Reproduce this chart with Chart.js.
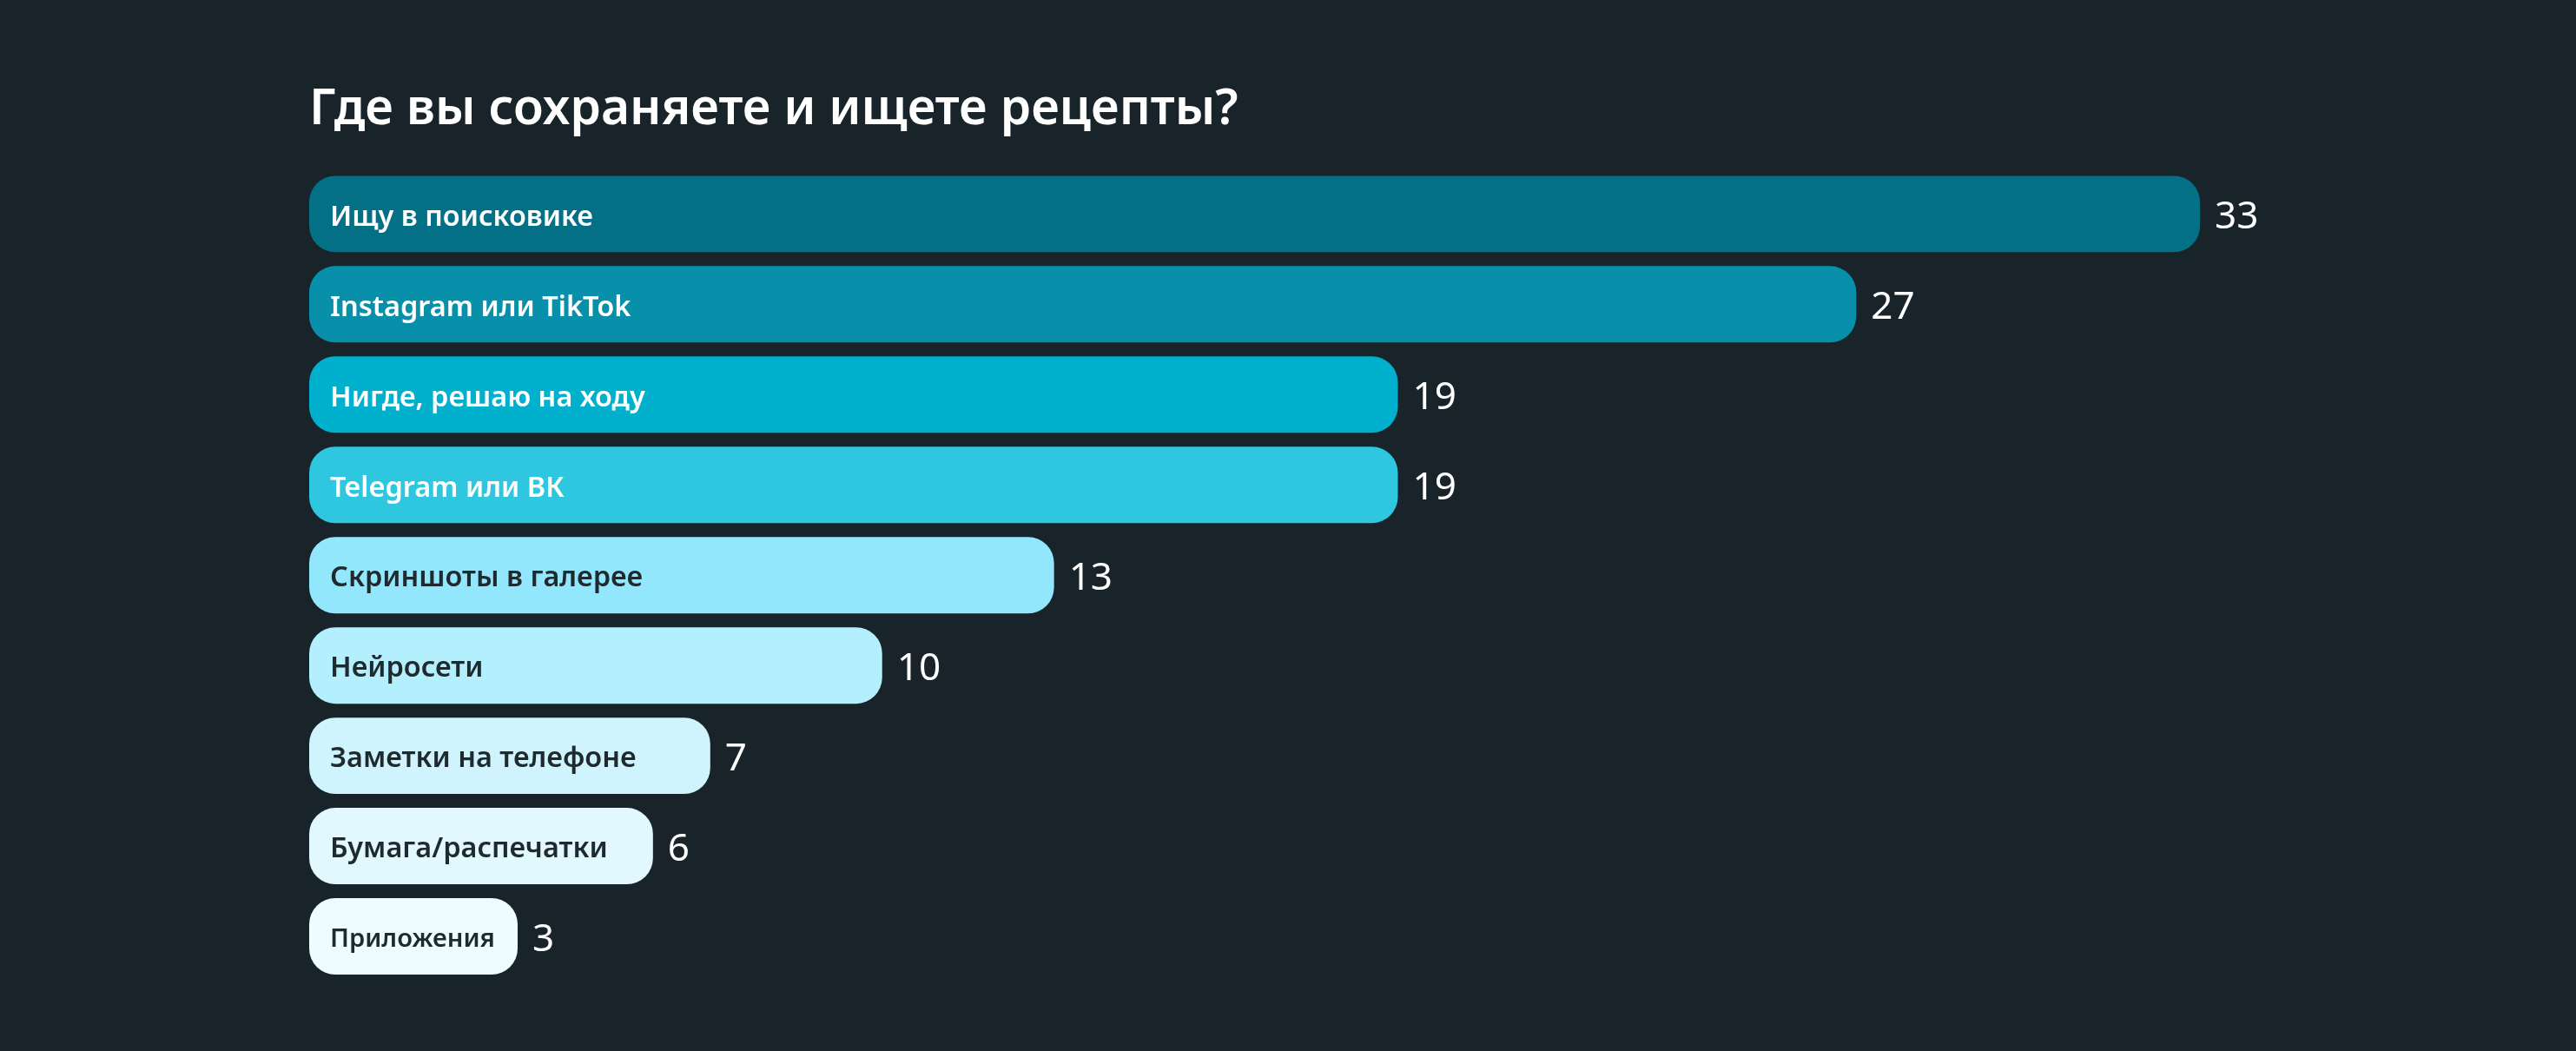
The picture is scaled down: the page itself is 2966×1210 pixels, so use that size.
<!DOCTYPE html>
<html lang="ru">
<head>
<meta charset="utf-8">
<title>Где вы сохраняете и ищете рецепты?</title>
<script src="https://cdn.jsdelivr.net/npm/chart.js@4.4.1/dist/chart.umd.min.js"></script>
<style>
  html, body { margin: 0; padding: 0; background: #182429; }
  #wrap { width: 2966px; height: 1210px; position: relative; }
</style>
</head>
<body>
<div id="wrap"><canvas id="chart"></canvas></div>
<script>
// data
const categories = [
  'Ищу в поисковике',
  'Instagram или TikTok',
  'Нигде, решаю на ходу',
  'Telegram или ВК',
  'Скриншоты в галерее',
  'Нейросети',
  'Заметки на телефоне',
  'Бумага/распечатки',
  'Приложения'
];
const answers = [33, 27, 19, 19, 13, 10, 7, 6, 3];
const barColors = ['#037085', '#0890aa', '#00b0cc', '#2ec7df', '#93e7fd', '#b4effd', '#d0f4fd', '#e0f8fe', '#effcff'];
const labelColors = ['#ffffff', '#ffffff', '#ffffff', '#ffffff', '#1f2a2e', '#1f2a2e', '#1f2a2e', '#1f2a2e', '#1f2a2e'];

const FONT = "'Noto Sans', 'Open Sans', sans-serif";
const LABEL_SIZE = 32.5;
const LABEL_PAD = 24;
const MIN_BAR = 240;

// very short bars get a minimum length, the label then shrinks to fit
const minWidthPlugin = {
  id: 'minWidth',
  beforeDatasetsDraw(chart) {
    chart.getDatasetMeta(0).data.forEach(bar => {
      if (bar.x - bar.base < MIN_BAR) bar.x = bar.base + MIN_BAR;
    });
  }
};

const barLabelsPlugin = {
  id: 'barLabels',
  afterDatasetsDraw(chart) {
    const ctx = chart.ctx;
    ctx.save();
    ctx.textBaseline = 'middle';
    ctx.textAlign = 'left';
    chart.getDatasetMeta(0).data.forEach((bar, i) => {
      let size = LABEL_SIZE;
      ctx.font = '600 ' + size + 'px ' + FONT;
      const room = bar.x - bar.base - LABEL_PAD - 26;
      const w = ctx.measureText(categories[i]).width;
      if (w > room) {
        size = size * room / w;
        ctx.font = '600 ' + size + 'px ' + FONT;
      }
      ctx.fillStyle = labelColors[i];
      ctx.fillText(categories[i], bar.base + LABEL_PAD, bar.y + 4);

      ctx.font = '400 44px ' + FONT;
      ctx.fillStyle = '#ffffff';
      ctx.fillText(String(answers[i]), bar.x + 17, bar.y + 4);
    });
    ctx.restore();
  }
};

new Chart(document.getElementById('chart'), {
  type: 'bar',
  data: {
    labels: categories,
    datasets: [{
      data: answers,
      backgroundColor: barColors,
      borderRadius: 30,
      borderSkipped: false,
      barPercentage: 1,
      categoryPercentage: 0.846
    }]
  },
  options: {
    indexAxis: 'y',
    responsive: true,
    maintainAspectRatio: false,
    animation: false,
    events: [],
    layout: { padding: { left: 356, right: 235, top: 0, bottom: 80 } },
    scales: {
      x: { display: false, min: 0, max: 36 },
      y: { display: false }
    },
    plugins: {
      legend: { display: false },
      tooltip: { enabled: false },
      title: {
        display: true,
        text: 'Где вы сохраняете и ищете рецепты?',
        align: 'start',
        color: '#ffffff',
        font: { family: FONT, size: 57, weight: '600', lineHeight: 1.2 },
        padding: { top: 93, bottom: 33 }
      }
    }
  },
  plugins: [minWidthPlugin, barLabelsPlugin]
});
</script>
</body>
</html>
